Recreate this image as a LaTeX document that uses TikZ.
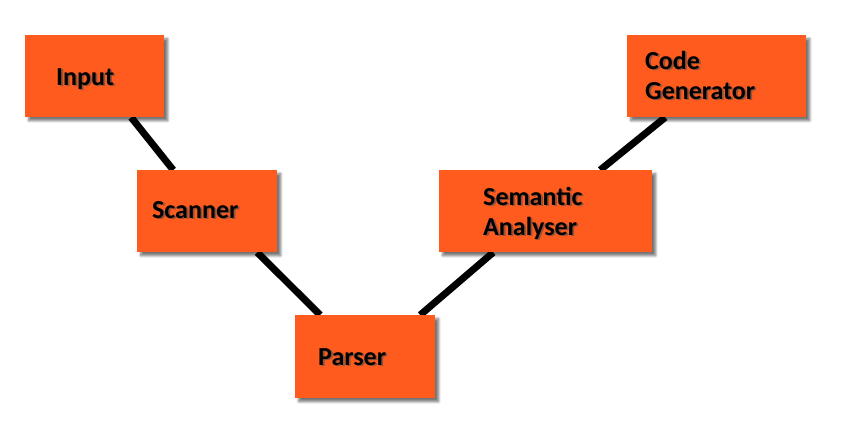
\documentclass[tikz,border=0pt]{standalone}
\usepackage{fontspec}
\setmainfont{Carlito}
\usetikzlibrary{shadows.blur,backgrounds}
\definecolor{boxorange}{RGB}{255,91,30}
\tikzset{
  box/.style={draw=none, fill=boxorange, inner sep=0pt, anchor=north west,
    blur shadow={shadow xshift=3.5pt, shadow yshift=-3.5pt, shadow blur radius=2.5pt, shadow opacity=55}},
  lbl/.style={anchor=base west, inner sep=0pt, font=\fontsize{26}{31}\selectfont\bfseries, text=black},
  lblsh/.style={lbl, text=black!70, opacity=0.6},
  conn/.style={line width=7pt, black}
}
\begin{document}
\begin{tikzpicture}[x=1pt,y=1pt]
\useasboundingbox (0,0) rectangle (849,-431);
% boxes
\node[box, minimum width=139pt, minimum height=82pt] (in) at (25,-35) {};
\node[box, minimum width=140pt, minimum height=82pt] (sc) at (137,-170) {};
\node[box, minimum width=140pt, minimum height=83pt] (pa) at (295,-315) {};
\node[box, minimum width=213pt, minimum height=82pt] (se) at (439,-170) {};
\node[box, minimum width=179pt, minimum height=82pt] (cg) at (627,-35) {};
% connectors behind boxes
\begin{scope}[on background layer]
\draw[conn] ([xshift=36.5pt]in.south) -- ([xshift=-34pt]sc.north);
\draw[conn] ([xshift=50pt]sc.south) -- ([xshift=-45pt]pa.north);
\draw[conn] ([xshift=55pt]pa.north) -- ([xshift=-52.5pt]se.south);
\draw[conn] ([xshift=54.5pt]se.north) -- ([xshift=-51.5pt]cg.south);
\end{scope}
% labels with soft shadow
\node[lblsh] at (57.8,-86.8) {Input};
\node[lbl] (inl) at (56,-85) {Input};
\node[lblsh] at (153.8,-219.8) {Scanner};
\node[lbl] (scl) at (152,-218) {Scanner};
\node[lblsh] at (319.8,-366.8) {Parser};
\node[lbl] (pal) at (318,-365) {Parser};
\node[lblsh] at (484.8,-206.8) {Semantic};
\node[lbl] (sel1) at (483,-205) {Semantic};
\node[lblsh] at (484.8,-236.8) {Analyser};
\node[lbl] (sel2) at (483,-235) {Analyser};
\node[lblsh] at (646.8,-70.8) {Code};
\node[lbl] (cgl1) at (645,-69) {Code};
\node[lblsh] at (646.8,-100.8) {Generator};
\node[lbl] (cgl2) at (645,-99) {Generator};
\end{tikzpicture}
\end{document}
